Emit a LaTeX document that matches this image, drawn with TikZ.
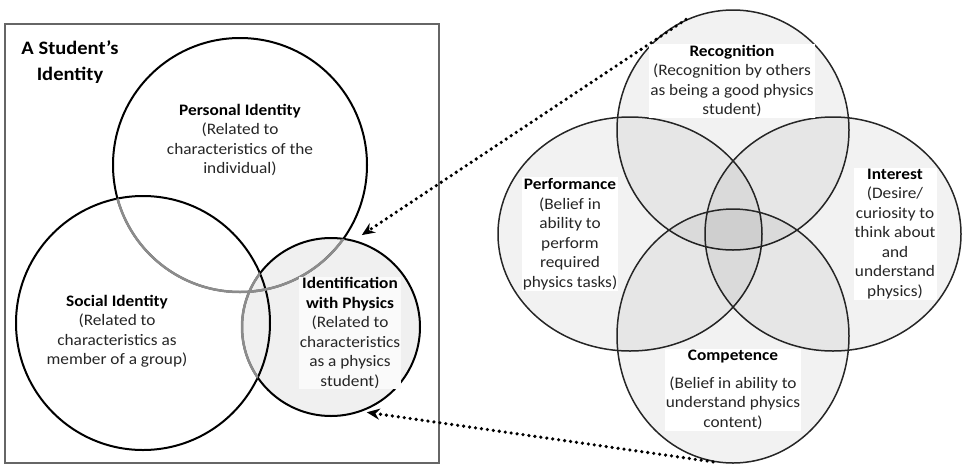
\documentclass[tikz,border=0pt]{standalone}
\usepackage{fontspec}
\setmainfont{Carlito}[FakeStretch=1.08]
\usetikzlibrary{shapes.geometric,arrows.meta}
\tikzset{
  idcircle/.style={circle, draw=black, line width=2pt, inner sep=0pt, minimum size=#1},
  facet/.style={ellipse, draw=black!85, line width=1.5pt, fill=black, fill opacity=0.05, inner sep=0pt},
  lbl/.style={align=center, fill=white, inner sep=1pt, text=black!85, font=\fontsize{16}{19.5}\selectfont},
  dotarrow/.style={line width=3.6pt, dash pattern=on 0pt off 6pt, line cap=round, -{Stealth[length=13pt,width=11pt]}}
}
\newcommand{\ttl}[1]{\textbf{\color{black}#1}}
\newcommand{\grayarc}[2]{\begin{scope} \clip (#1.center) circle (#2); \draw[black!45, line width=2.5pt] (pers.center) circle (127pt); \end{scope}}

\begin{document}
\begin{tikzpicture}[x=1pt,y=-1pt]
        \useasboundingbox (0,0) rectangle (962,464);

        % frame
        \draw[black!60, line width=1.5pt] (5,24) rectangle (439,463);
        \node[lbl, fill=none, font=\fontsize{19}{21}\selectfont] (title) at (70,62) {\ttl{A Student’s}\\[5pt]\ttl{Identity}};

        % left circles
        \node[idcircle=178pt, fill=black!6] (ident) at (331,327) {};
        \node[idcircle=254pt] (pers) at (240,165) {};
        \node[idcircle=254pt] (soc) at (143,323) {};

        % gray arcs
        \grayarc{soc}{127pt}
        \grayarc{ident}{89pt}
        \begin{scope}
          \clip (soc.center) circle (127pt);
          \draw[black!45, line width=2.5pt] (ident.center) circle (89pt);
        \end{scope}

        % left labels
        \node[lbl] (perslbl) at (240,140) {\ttl{Personal Identity}\\(Related to\\characteristics of the\\individual)};
        \node[lbl] (soclbl) at (117,331) {\ttl{Social Identity}\\(Related to\\characteristics as\\member of a group)};
        \node[lbl, fill=black!2] (identlbl) at (350,333) {\ttl{Identification}\\\ttl{with Physics}\\(Related to\\characteristics\\as a physics\\student)};

        % right ellipses
        \node[facet, minimum width=232pt, minimum height=240pt] (recog) at (733,130) {};
        \node[facet, minimum width=264pt, minimum height=234pt] (perf) at (630,234) {};
        \node[facet, minimum width=256pt, minimum height=234pt] (inter) at (833,234) {};
        \node[facet, minimum width=232pt, minimum height=254pt] (comp) at (733,336) {};

        % right labels
        \node[lbl] (recoglbl) at (732,81) {\ttl{Recognition}\\(Recognition by others\\as being a good physics\\student)};
        \node[lbl] (perflbl) at (570,234) {\ttl{Performance}\\(Belief in\\ability to\\perform\\required\\physics tasks)};
        \node[lbl] (interlbl) at (895,234) {\ttl{Interest}\\(Desire/\\curiosity to\\think about\\and\\understand\\physics)};
        \node[lbl] (complbl) at (733,390) {\ttl{Competence}\\[8pt](Belief in ability to\\understand physics\\content)};

        % arrows
        \draw[dotarrow, shorten >=9pt] (recog.113) -- (ident.75);
        \draw[dotarrow, shorten >=5pt] (comp.261) -- (ident.-70);

\end{tikzpicture}
\end{document}
